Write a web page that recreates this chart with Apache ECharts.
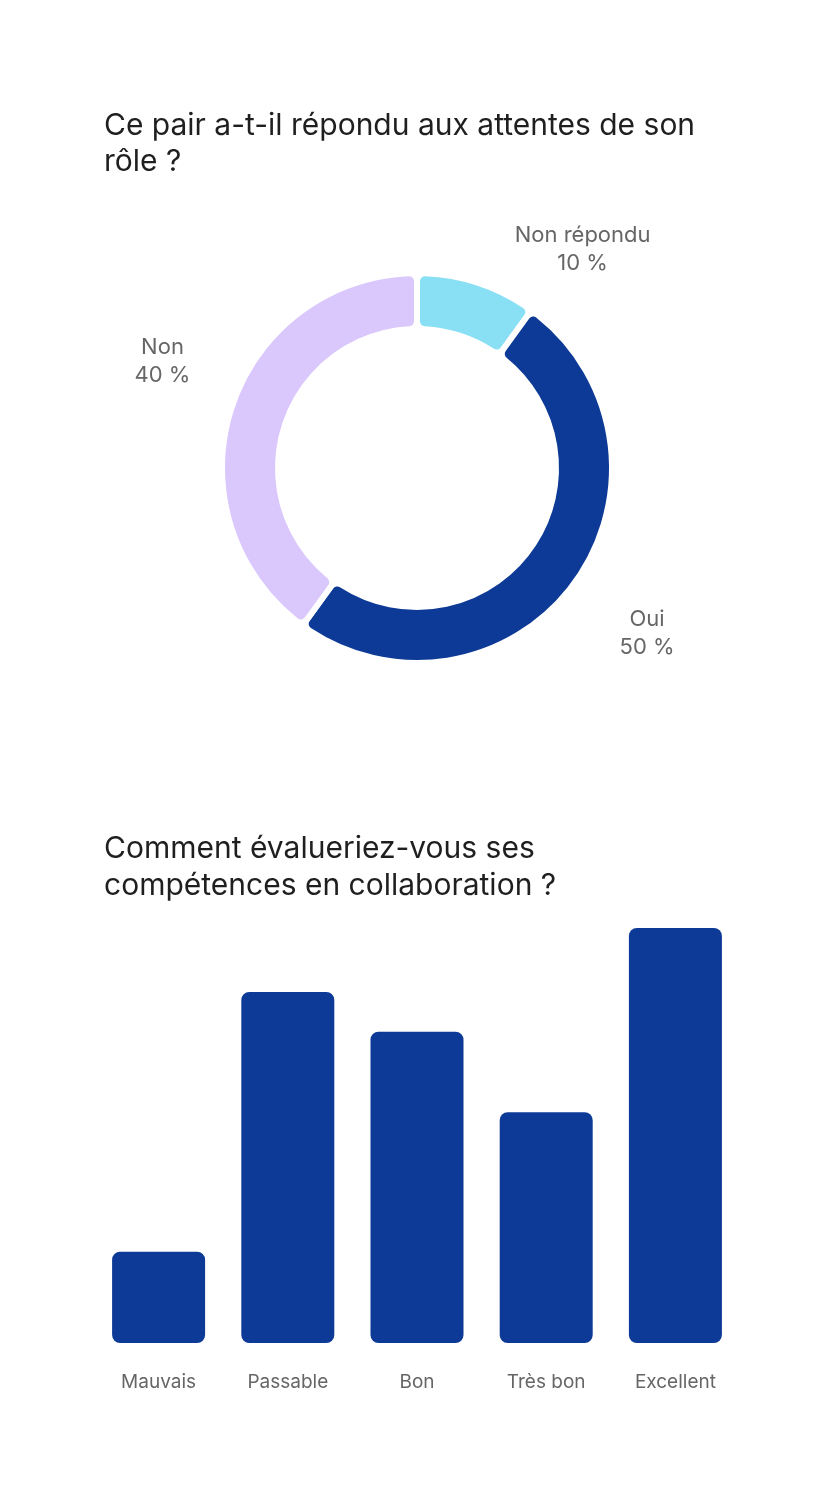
<!DOCTYPE html>
<html>
<head>
<meta charset="utf-8">
<script src="https://cdn.jsdelivr.net/npm/echarts@6/dist/echarts.min.js"></script>
<style>
html,body{margin:0;padding:0;background:#fff;}
#c{width:834px;height:1496px;}
</style>
</head>
<body>
<div id="c"></div>
<script>
const pieTitle = "Ce pair a-t-il répondu aux attentes de son\nrôle ?";
const pieNames = ["Non répondu", "Oui", "Non"];
const pieValues = [10, 50, 40];
const pieColors = ["#89E0F4", "#0D3A96", "#DAC8FD"];

const barTitle = "Comment évalueriez-vous ses\ncompétences en collaboration ?";
const barCategories = ["Mauvais", "Passable", "Bon", "Très bon", "Excellent"];
const barValues = [11, 42.3, 37.5, 27.8, 50];

const FONT = "Inter, 'Noto Sans', sans-serif";
const chart = echarts.init(document.getElementById('c'), null, {renderer:'canvas'});

const labelNudge = [[68, 5], [15, 27], [-6, -34]];

chart.setOption({
  animation: false,
  title: [
    {text: pieTitle, left: 99, top: 103,
     textStyle: {fontFamily: FONT, fontSize: 30, fontWeight: 'normal', color: '#1f1f1f', lineHeight: 36}},
    {text: barTitle, left: 99, top: 825,
     textStyle: {fontFamily: FONT, fontSize: 30, fontWeight: 'normal', color: '#1f1f1f', lineHeight: 37}}
  ],
  grid: {left: 94, right: 94, top: 928, bottom: 153, containLabel: false},
  xAxis: {
    type: 'category', data: barCategories,
    axisLine: {show: false}, axisTick: {show: false},
    axisLabel: {fontFamily: FONT, fontSize: 19, color: '#666', margin: 30}
  },
  yAxis: {type: 'value', min: 0, max: 50, show: false, splitLine: {show: false}},
  series: [
    {
      type: 'pie',
      center: [417, 468],
      radius: [139, 195],
      startAngle: 90,
      clockwise: true,
      data: pieNames.map((n, i) => ({name: n, value: pieValues[i], itemStyle: {color: pieColors[i]}})),
      itemStyle: {borderColor: '#fff', borderWidth: 6, borderRadius: 8},
      label: {
        show: true, position: 'outside', formatter: '{b}\n{d} %',
        fontFamily: FONT, fontSize: 22, color: '#666', lineHeight: 28
      },
      labelLine: {show: false, length: 40, length2: 20},
      labelLayout: function (p) {
        const n = labelNudge[p.dataIndex];
        return {align: 'center', verticalAlign: 'middle', dx: n[0], dy: n[1]};
      },
      emphasis: {disabled: true}
    },
    {
      type: 'bar',
      data: barValues,
      barWidth: 93,
      itemStyle: {color: '#0D3A96', borderRadius: 8},
      emphasis: {disabled: true}
    }
  ]
});
</script>
</body>
</html>
